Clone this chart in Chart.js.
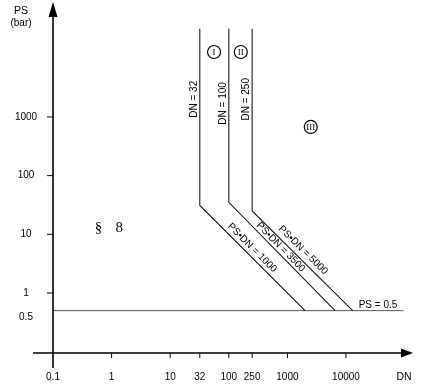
<!DOCTYPE html>
<html>
<head>
<meta charset="utf-8">
<script src="https://cdn.jsdelivr.net/npm/chart.js@4.4.0/dist/chart.umd.min.js"></script>
<style>
  html, body { margin: 0; padding: 0; background: #fff; }
  #wrap { width: 423px; height: 392px; position: relative; }
</style>
</head>
<body>
<div id="wrap"><canvas id="psChart"></canvas></div>
<script>
// Values (log-log, DN vs PS in bar)
const dnValues = [32, 100, 250];
const dnLabels = ['DN = 32', 'DN = 100', 'DN = 250'];
const dnLabelPS = [2000, 1700, 2000];
const topPS = 32000;
const kneePS = [31, 35, 25];
const endDN = [2000, 6500, 13000];
const psdnLabels = ['PS\u2022DN = 1000', 'PS\u2022DN = 3500', 'PS\u2022DN = 5000'];
const psMin = 0.5;
const psMinLineDN = [0.1, 94000];

const xTickLabels = [0.1, 1, 10, 32, 100, 250, 1000, 10000];
const xTickMarks = [1, 10, 32, 100, 250, 1000, 10000];
const yTickLabels = [1000, 100, 10, 1, 0.5];
const yTickMarks = [1000, 100, 10, 1];

// circled category marks
const regionText = ['I', 'II', 'III'];
const regionDN = [56, 160, 2500];
const regionPS = [12800, 12800, 675];

const FONT = '"Liberation Sans", Arial, sans-serif';
const SERIF = '"Liberation Serif", "Times New Roman", serif';

const datasets = dnValues.map((dn, i) => ({
    data: [{ x: dn, y: topPS }, { x: dn, y: kneePS[i] }, { x: endDN[i], y: psMin }],
    borderColor: '#1a1a1a',
    borderWidth: 1.1
}));
datasets.push({
    data: [{ x: psMinLineDN[0], y: psMin }, { x: psMinLineDN[1], y: psMin }],
    borderColor: '#555',
    borderWidth: 1
});

const diagramPlugin = {
    id: 'diagram',
    afterDraw(chart) {
        const ctx = chart.ctx;
        const xs = chart.scales.x;
        const ys = chart.scales.y;
        const x0 = xs.getPixelForValue(0.1);
        const y0 = ys.bottom;
        ctx.save();
        ctx.strokeStyle = '#000';
        ctx.fillStyle = '#000';

        // axes
        ctx.lineWidth = 1.6;
        ctx.beginPath();
        ctx.moveTo(x0, y0 + 15);
        ctx.lineTo(x0, ys.top + 10);
        ctx.moveTo(x0 - 20, y0);
        ctx.lineTo(xs.right - 8, y0);
        ctx.stroke();
        // arrow heads
        ctx.beginPath();
        ctx.moveTo(x0, ys.top - 1);
        ctx.lineTo(x0 - 4.5, ys.top + 14);
        ctx.lineTo(x0 + 4.5, ys.top + 14);
        ctx.closePath();
        ctx.fill();
        ctx.beginPath();
        ctx.moveTo(xs.right, y0);
        ctx.lineTo(xs.right - 12, y0 - 4.5);
        ctx.lineTo(xs.right - 12, y0 + 4.5);
        ctx.closePath();
        ctx.fill();

        // tick marks
        ctx.lineWidth = 1;
        ctx.beginPath();
        xTickMarks.forEach(v => {
            const px = xs.getPixelForValue(v);
            ctx.moveTo(px, y0);
            ctx.lineTo(px, y0 + 5);
        });
        yTickMarks.forEach(v => {
            const py = ys.getPixelForValue(v);
            ctx.moveTo(x0 - 6, py);
            ctx.lineTo(x0, py);
        });
        ctx.stroke();

        // tick labels
        ctx.font = '10px ' + FONT;
        ctx.textAlign = 'center';
        ctx.textBaseline = 'middle';
        xTickLabels.forEach(v => {
            ctx.fillText(String(v), xs.getPixelForValue(v), y0 + 24);
        });
        yTickLabels.forEach(v => {
            const dy = v === 0.5 ? 7 : 0;
            ctx.fillText(String(v), 26, ys.getPixelForValue(v) + dy);
        });

        // axis titles
        ctx.font = '10.5px ' + FONT;
        ctx.fillText('PS', 21, 11);
        ctx.font = '10px ' + FONT;
        ctx.fillText('(bar)', 21, 23);
        ctx.font = '10.5px ' + FONT;
        ctx.fillText('DN', 404, y0 + 24);

        // vertical line labels
        ctx.font = '10px ' + FONT;
        dnValues.forEach((dn, i) => {
            ctx.save();
            ctx.translate(xs.getPixelForValue(dn) - 6, ys.getPixelForValue(dnLabelPS[i]));
            ctx.rotate(-Math.PI / 2);
            ctx.fillText(dnLabels[i], 0, 0);
            ctx.restore();
        });

        // diagonal labels
        const offsets = [7, 5.7, 8];
        dnValues.forEach((dn, i) => {
            const kx = xs.getPixelForValue(dn), ky = ys.getPixelForValue(kneePS[i]);
            const ex = xs.getPixelForValue(endDN[i]), ey = ys.getPixelForValue(psMin);
            const a = Math.atan2(ey - ky, ex - kx);
            const t = 0.45, d = offsets[i];
            const cx = kx + t * (ex - kx) + d * Math.sin(a);
            const cy = ky + t * (ey - ky) - d * Math.cos(a);
            ctx.save();
            ctx.translate(cx, cy);
            ctx.rotate(a);
            ctx.fillText(psdnLabels[i], 0, 0);
            ctx.restore();
        });

        // PS = 0.5 label
        ctx.fillText('PS = 0.5', 378, ys.getPixelForValue(psMin) - 5.5);

        // circled marks
        regionText.forEach((txt, i) => {
            const px = xs.getPixelForValue(regionDN[i]);
            const py = ys.getPixelForValue(regionPS[i]);
            ctx.lineWidth = 1.2;
            ctx.beginPath();
            ctx.arc(px, py, 6.5, 0, Math.PI * 2);
            ctx.stroke();
            ctx.font = '9px ' + SERIF;
            ctx.fillText(txt, px, py + 0.5);
        });

        // section mark
        ctx.font = '15px ' + SERIF;
        ctx.fillText('\u00a7', xs.getPixelForValue(0.6), ys.getPixelForValue(13));
        ctx.fillText('8', xs.getPixelForValue(1.35), ys.getPixelForValue(13));

        ctx.restore();
    }
};

new Chart(document.getElementById('psChart').getContext('2d'), {
    type: 'scatter',
    data: { datasets: datasets },
    options: {
        responsive: true,
        maintainAspectRatio: false,
        animation: false,
        showLine: true,
        elements: {
            point: { radius: 0, hoverRadius: 0 },
            line: { tension: 0 }
        },
        layout: { padding: { left: 53, right: 10, top: 3, bottom: 39 } },
        scales: {
            x: { type: 'logarithmic', min: 0.1, max: 139000, bounds: 'data', display: false },
            y: { type: 'logarithmic', min: 0.0949, max: 87500, bounds: 'data', display: false }
        },
        plugins: {
            legend: { display: false },
            tooltip: { enabled: false }
        }
    },
    plugins: [diagramPlugin]
});
</script>
</body>
</html>
